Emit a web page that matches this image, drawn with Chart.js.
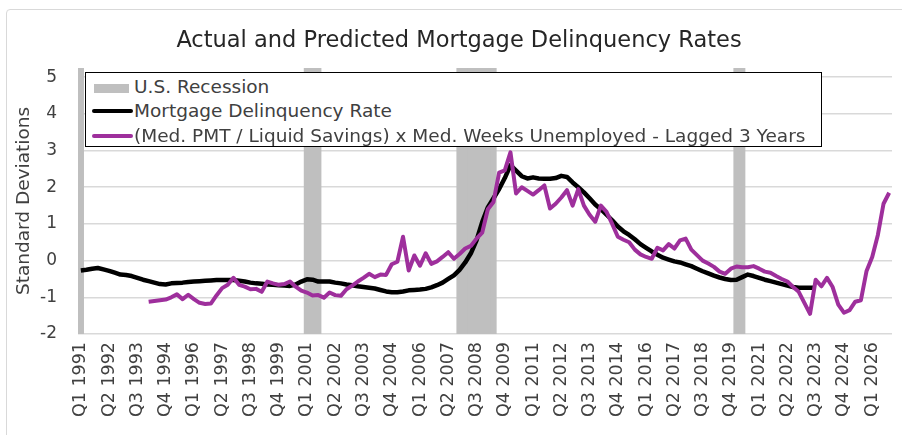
<!DOCTYPE html>
<html lang="en">
  <head>
    <meta charset="UTF-8" />
    <title>Actual and Predicted Mortgage Delinquency Rates</title>
    <script src="https://cdn.jsdelivr.net/npm/chart.js"></script>
    <style>
      html, body {
        margin: 0;
        padding: 0;
        background: #fff;
        overflow: hidden;
        font-family: "DejaVu Sans", sans-serif;
      }
      .frame {
        position: absolute;
        left: 6px;
        top: 9px;
        width: 1000px;
        height: 1000px;
        border: 1.5px solid #d9d9d9;
        border-radius: 4px;
      }
      .wrap {
        position: absolute;
        left: 0;
        top: 0;
        width: 902px;
        height: 435px;
      }
      .title {
        position: absolute;
        left: 0;
        width: 918px;
        top: 26px;
        text-align: center;
        font-size: 22.5px;
        color: #262626;
        white-space: nowrap;
      }
      #legend {
        position: absolute;
        left: 85px;
        top: 72px;
        width: 735px;
        height: 73px;
        border: 1.5px solid #000;
        background: #fff;
        font-size: 18.5px;
        color: #404040;
      }
      #legend .item {
        position: absolute;
        left: 0;
        height: 24px;
        line-height: 24px;
        white-space: nowrap;
      }
      #legend .sw {
        position: absolute;
      }
      #legend .txt {
        position: absolute;
        left: 48px;
        top: 0;
      }
    </style>
  </head>
  <body>
    <div class="frame"></div>
    <div class="wrap">
      <canvas id="delinqChart" width="902" height="435"></canvas>
    </div>
    <div class="title" id="title"></div>
    <div id="legend"></div>

    <script>
      const chartTitle = "Actual and Predicted Mortgage Delinquency Rates";
      const yTitle = "Standard Deviations";

      // quarterly categories, Q1 1991 .. Q4 2026
      const firstYear = 1991;
      const lastYear = 2026;
      const quarters = [];
      for (let y = firstYear; y <= lastYear; y++) {
        for (let q = 1; q <= 4; q++) quarters.push("Q" + q + " " + y);
      }
      const labelEvery = 5;

      const yTicks = [-2, -1, 0, 1, 2, 3, 4, 5];

      // recession periods (first and last quarter shaded)
      const recessions = [
        ["Q1 1991", "Q1 1991"],
        ["Q1 2001", "Q3 2001"],
        ["Q4 2007", "Q2 2009"],
        ["Q1 2020", "Q2 2020"],
      ];

      const seriesNames = [
        "U.S. Recession",
        "Mortgage Delinquency Rate",
        "(Med. PMT / Liquid Savings) x Med. Weeks Unemployed - Lagged 3 Years",
      ];

      // actual delinquency rate, starts Q1 1991
      const actual = [
        -0.27, -0.25, -0.22, -0.2, -0.24, -0.28, -0.33, -0.38, -0.39, -0.42,
        -0.47, -0.52, -0.56, -0.6, -0.64, -0.65, -0.62, -0.61, -0.6, -0.58,
        -0.57, -0.56, -0.55, -0.54, -0.53, -0.53, -0.53, -0.53, -0.55, -0.57,
        -0.6, -0.62, -0.63, -0.65, -0.66, -0.67, -0.68, -0.69, -0.65, -0.57,
        -0.51, -0.52, -0.57, -0.57, -0.57, -0.6, -0.62, -0.65, -0.67, -0.7,
        -0.72, -0.74, -0.76, -0.8, -0.84, -0.86, -0.86, -0.84, -0.81, -0.8,
        -0.79, -0.77, -0.73, -0.67, -0.6, -0.5, -0.4, -0.25, -0.05, 0.2,
        0.55, 1.05, 1.45, 1.7, 1.95, 2.25, 2.6, 2.45, 2.3, 2.24,
        2.27, 2.24, 2.23, 2.23, 2.25, 2.31, 2.28, 2.13, 2.0, 1.86,
        1.7, 1.53, 1.4, 1.25, 1.1, 0.93, 0.8, 0.7, 0.58, 0.45,
        0.35, 0.25, 0.16, 0.08, 0.03, -0.02, -0.05, -0.1, -0.15, -0.22,
        -0.29, -0.35, -0.41, -0.46, -0.5, -0.53, -0.52, -0.45, -0.38, -0.42,
        -0.47, -0.52, -0.56, -0.6, -0.64, -0.68, -0.72, -0.74, -0.74, -0.74,
        -0.74,
      ];

      // predicted (lagged 3 years), starts Q1 1994
      const predStart = "Q1 1994";
      const predicted = [
        -1.12, -1.1, -1.08, -1.06, -1.0, -0.92, -1.05, -0.93, -1.05, -1.15,
        -1.18, -1.17, -0.95, -0.75, -0.66, -0.47, -0.66, -0.71, -0.78, -0.77,
        -0.85, -0.57, -0.62, -0.66, -0.64, -0.57, -0.71, -0.82, -0.87, -0.95,
        -0.94, -1.01, -0.87, -0.94, -0.96, -0.78, -0.68, -0.57, -0.47, -0.36,
        -0.45, -0.38, -0.39, -0.1, -0.03, 0.65, -0.27, 0.14, -0.14, 0.2,
        -0.09, -0.02, 0.1, 0.23, 0.05, 0.18, 0.33, 0.4, 0.6, 0.76,
        1.4, 1.6, 2.4, 2.46, 2.95, 1.83, 2.0, 1.9, 1.8, 1.92,
        2.05, 1.42, 1.55, 1.72, 1.92, 1.5, 1.95, 1.5, 1.25, 1.06,
        1.5, 1.33, 1.0, 0.65, 0.57, 0.5, 0.3, 0.17, 0.1, 0.05,
        0.35, 0.28, 0.45, 0.33, 0.55, 0.6, 0.3, 0.15, 0.0, -0.08,
        -0.17, -0.3, -0.36, -0.22, -0.16, -0.18, -0.18, -0.15, -0.22, -0.3,
        -0.33, -0.42, -0.5, -0.57, -0.72, -0.85, -1.15, -1.45, -0.52, -0.7,
        -0.47, -0.72, -1.2, -1.42, -1.35, -1.12, -1.08, -0.28, 0.1, 0.7,
        1.55, 1.85,
      ];

      const yMin = -2;
      const yMax = 5.25;

      const colRecession = "#bfbfbf";
      const colActual = "#000000";
      const colPred = "#9e2f9c";

      // build the shaded recession bars
      const recessionData = quarters.map(() => null);
      recessions.forEach(([a, b]) => {
        for (let i = quarters.indexOf(a); i <= quarters.indexOf(b); i++) {
          recessionData[i] = [yMin, yMax];
        }
      });

      const predOffset = quarters.indexOf(predStart);
      const predData = new Array(predOffset).fill(null).concat(predicted);

      document.getElementById("title").textContent = chartTitle;

      const ctx = document.getElementById("delinqChart").getContext("2d");
      const chart = new Chart(ctx, {
        data: {
          labels: quarters,
          datasets: [
            {
              type: "bar",
              label: seriesNames[0],
              data: recessionData,
              backgroundColor: colRecession,
              barPercentage: 1,
              categoryPercentage: 1,
              grouped: false,
              order: 3,
            },
            {
              type: "line",
              label: seriesNames[1],
              data: actual,
              borderColor: colActual,
              borderWidth: 4.5,
              pointRadius: 0,
              tension: 0,
              borderJoinStyle: "round",
              order: 2,
            },
            {
              type: "line",
              label: seriesNames[2],
              data: predData,
              borderColor: colPred,
              borderWidth: 4,
              pointRadius: 0,
              tension: 0,
              borderJoinStyle: "round",
              order: 1,
            },
          ],
        },
        options: {
          responsive: false,
          animation: false,
          layout: { padding: { left: 11, right: 10, top: 68, bottom: 0 } },
          plugins: {
            legend: { display: false },
            tooltip: { enabled: false },
          },
          scales: {
            x: {
              type: "category",
              grid: { display: false, drawTicks: false },
              border: { display: false },
              ticks: {
                autoSkip: false,
                minRotation: 90,
                maxRotation: 90,
                padding: 8,
                color: "#404040",
                font: { family: "DejaVu Sans", size: 17.5 },
                callback: function (val, idx) {
                  return idx % labelEvery === 0 ? quarters[idx] : "";
                },
              },
              afterFit: function (scale) {
                scale.height = 101;
                scale.paddingLeft = 0;
                scale.paddingRight = 0;
              },
            },
            y: {
              min: yMin,
              max: yMax,
              grid: { color: "#d9d9d9", lineWidth: 1.5, drawTicks: false },
              border: { display: false },
              ticks: {
                stepSize: 1,
                padding: 21,
                color: "#404040",
                font: { family: "DejaVu Sans", size: 17 },
              },
              afterBuildTicks: function (scale) {
                scale.ticks = yTicks.map((v) => ({ value: v }));
              },
              title: {
                display: true,
                text: yTitle,
                color: "#404040",
                font: { family: "DejaVu Sans", size: 18.5 },
                padding: { top: 2, bottom: 2 },
              },
              afterFit: function (scale) {
                scale.width = 67;
              },
            },
          },
        },
      });

      // legend box laid over the top of the plot
      const legend = document.getElementById("legend");
      const rows = [
        { top: 2, sw: { left: 8, top: 9, width: 35, height: 9, background: colRecession } },
        { top: 26, sw: { left: 6, top: 10, width: 41, height: 4, background: colActual, borderRadius: "2px" } },
        { top: 51, sw: { left: 6, top: 10, width: 41, height: 4, background: colPred, borderRadius: "2px" } },
      ];
      rows.forEach((r, i) => {
        const item = document.createElement("div");
        item.className = "item";
        item.style.top = r.top + "px";
        const sw = document.createElement("span");
        sw.className = "sw";
        sw.style.left = r.sw.left + "px";
        sw.style.top = r.sw.top + "px";
        sw.style.width = r.sw.width + "px";
        sw.style.height = r.sw.height + "px";
        sw.style.background = r.sw.background;
        if (r.sw.borderRadius) sw.style.borderRadius = r.sw.borderRadius;
        const txt = document.createElement("span");
        txt.className = "txt";
        txt.textContent = chart.data.datasets[i].label;
        item.appendChild(sw);
        item.appendChild(txt);
        legend.appendChild(item);
      });
    </script>
  </body>
</html>
